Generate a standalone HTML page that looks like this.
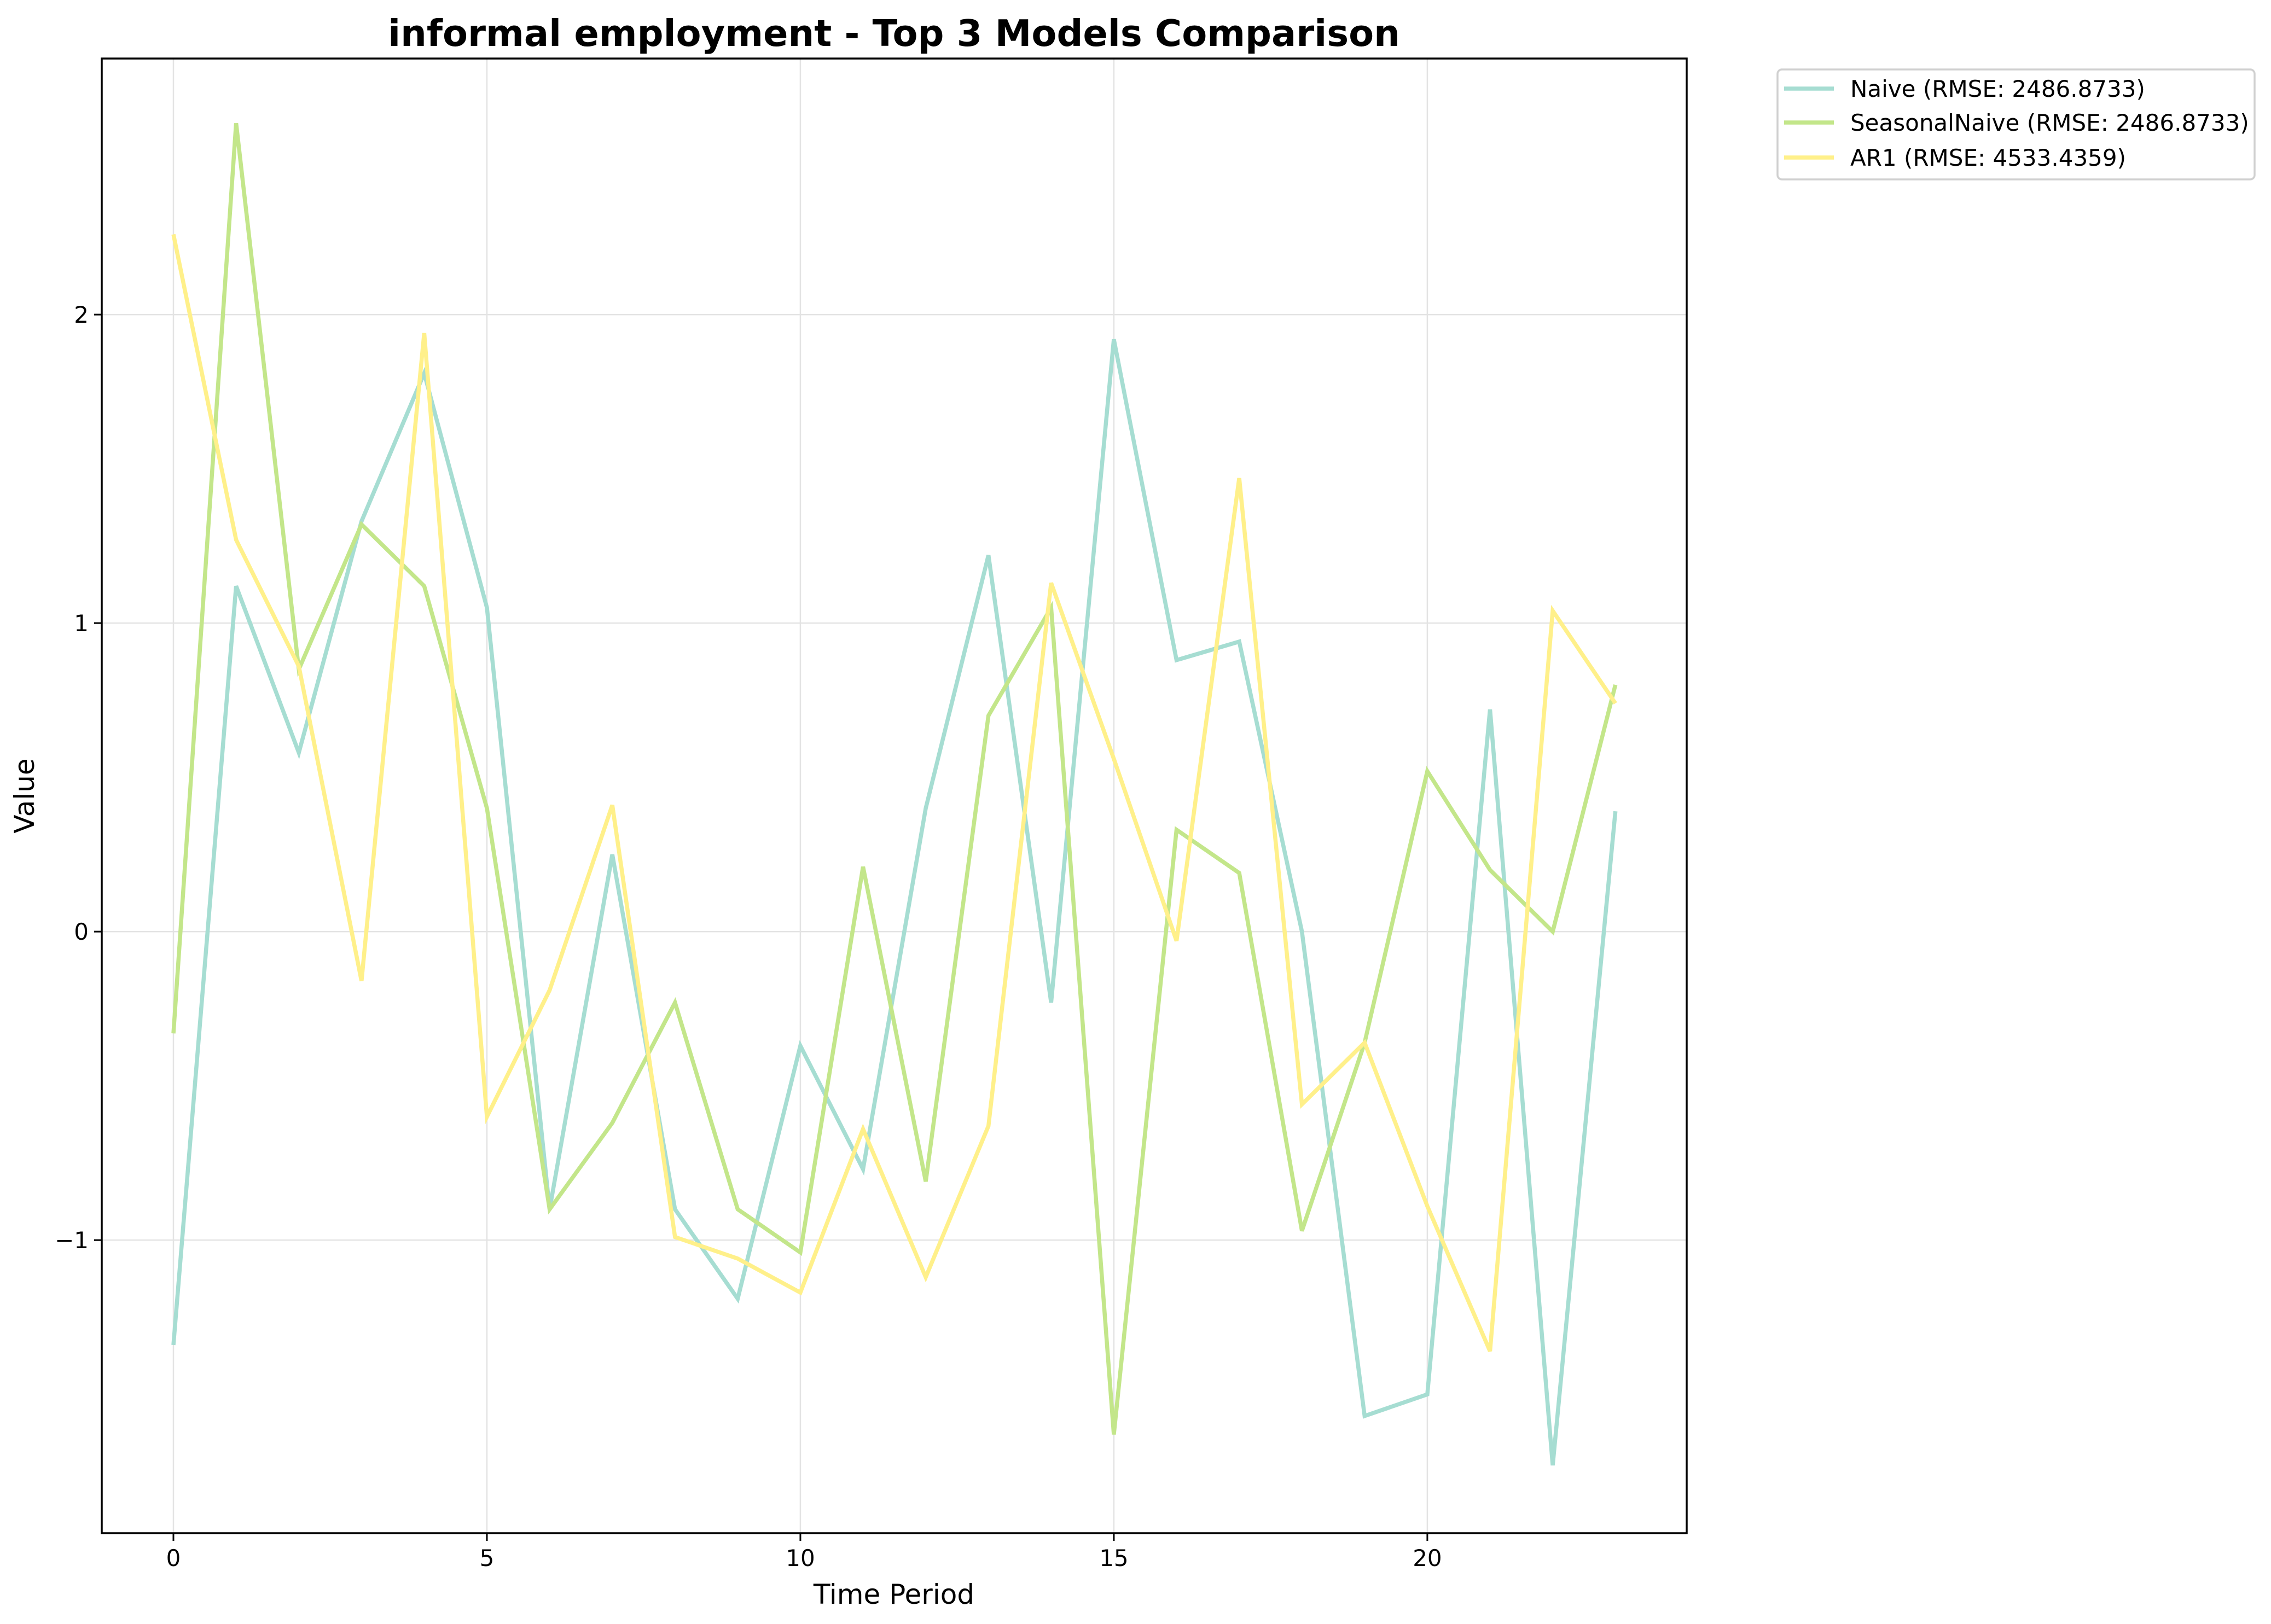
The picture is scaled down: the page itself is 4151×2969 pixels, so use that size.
<!DOCTYPE html>
<html><head><meta charset="utf-8"><style>
html,body{margin:0;padding:0;background:#fff;}
svg{display:block;font-family:"DejaVu Sans","Liberation Sans",sans-serif;}
</style></head><body>
<svg id="chart" width="4151" height="2969" viewBox="0 0 4151 2969" xmlns="http://www.w3.org/2000/svg">
<rect width="4151" height="2969" fill="#fff"/>
<text x="1634" y="84" text-anchor="middle" font-size="67" font-weight="bold">informal employment - Top 3 Models Comparison</text>
<g id="grid"></g>
<g id="series"></g>
<rect x="186" y="107" width="2897" height="2696" fill="none" stroke="#000" stroke-width="3.5"/>
<g id="ticks"></g>
<text x="1634" y="2932" text-anchor="middle" font-size="50">Time Period</text>
<text x="0" y="0" transform="translate(62,1455) rotate(-90)" text-anchor="middle" font-size="50">Value</text>
<g>
<rect x="3249" y="127" width="872" height="201" rx="8" fill="#fff" stroke="#d0d0d0" stroke-width="3.5"/>
<g id="legend-items"></g>
</g>
</svg>
<script>
const xValues=[0,1,2,3,4,5,6,7,8,9,10,11,12,13,14,15,16,17,18,19,20,21,22,23];
const naive=[-1.34,1.12,0.58,1.33,1.81,1.05,-0.90,0.25,-0.90,-1.19,-0.37,-0.77,0.40,1.22,-0.23,1.92,0.88,0.94,0.00,-1.57,-1.50,0.72,-1.73,0.39];
const seasonalNaive=[-0.33,2.62,0.85,1.32,1.12,0.40,-0.90,-0.62,-0.23,-0.90,-1.04,0.21,-0.81,0.70,1.05,-1.63,0.33,0.19,-0.97,-0.36,0.52,0.20,0.00,0.80];
const ar1=[2.26,1.27,0.86,-0.16,1.94,-0.60,-0.19,0.41,-0.99,-1.06,-1.17,-0.64,-1.12,-0.63,1.13,0.56,-0.03,1.47,-0.56,-0.36,-0.89,-1.36,1.04,0.74];
const seriesNames=["Naive (RMSE: 2486.8733)","SeasonalNaive (RMSE: 2486.8733)","AR1 (RMSE: 4533.4359)"];
const xTicks=[0,5,10,15,20];
const yTicks=[-1,0,1,2];
const yTickLabels=["\u22121","0","1","2"];

const NS="http://www.w3.org/2000/svg";
const L=186,R=3083,T=107,B=2803;
const xMin=-1.143,xMax=24.137;
const yMin=-1.95,yMax=2.83;
function sx(v){return L+(v-xMin)/(xMax-xMin)*(R-L);}
function sy(v){return B-(v-yMin)/(yMax-yMin)*(B-T);}
function mk(tag,attrs,parent){const e=document.createElementNS(NS,tag);for(const k in attrs)e.setAttribute(k,attrs[k]);parent.appendChild(e);return e;}

const grid=document.getElementById('grid'),ticks=document.getElementById('ticks');
xTicks.forEach(t=>{
  const g=mk('line',{x1:sx(t),x2:sx(t),y1:T,y2:B,stroke:'#e3e3e3','stroke-width':2.5},grid);
  
  
  const tk=mk('line',{x1:sx(t),x2:sx(t),y1:B,y2:B+14,stroke:'#000','stroke-width':3},ticks);
  
  
  const lb=mk('text',{x:sx(t),y:B+60,'text-anchor':'middle','font-size':42},ticks);
  lb.textContent=t;
  
  
});
yTicks.forEach((t,i)=>{
  const g=mk('line',{x1:L,x2:R,y1:sy(t),y2:sy(t),stroke:'#e3e3e3','stroke-width':2.5},grid);
  
  
  const tk=mk('line',{x1:L-14,x2:L,y1:sy(t),y2:sy(t),stroke:'#000','stroke-width':3},ticks);
  
  
  const lb=mk('text',{x:L-24,y:sy(t)+15,'text-anchor':'end','font-size':42},ticks);
  lb.textContent=yTickLabels[i];
  
  
});

const colors=['#a6ddd2','#c3e68a','#fff08a'];
const data=[naive,seasonalNaive,ar1];
const lineNames=['naive-line','seasonal-naive-line','ar1-line'];
const sg=document.getElementById('series');
data.forEach((arr,i)=>{
  const pts=arr.map((v,j)=>sx(xValues[j]).toFixed(1)+','+sy(v).toFixed(1)).join(' ');
  const p=mk('polyline',{points:pts,fill:'none',stroke:colors[i],'stroke-width':7.5,'stroke-linejoin':'miter'},sg);
  
  
});
const li=document.getElementById('legend-items');
const ly=[162,224,288];
seriesNames.forEach((n,i)=>{
  const h=mk('line',{x1:3261,x2:3352,y1:ly[i],y2:ly[i],stroke:colors[i],'stroke-width':7.5},li);
  
  
  const t=mk('text',{x:3382,y:ly[i]+15,'font-size':42},li);
  t.textContent=n;
  
  
});
</script>
</body></html>
